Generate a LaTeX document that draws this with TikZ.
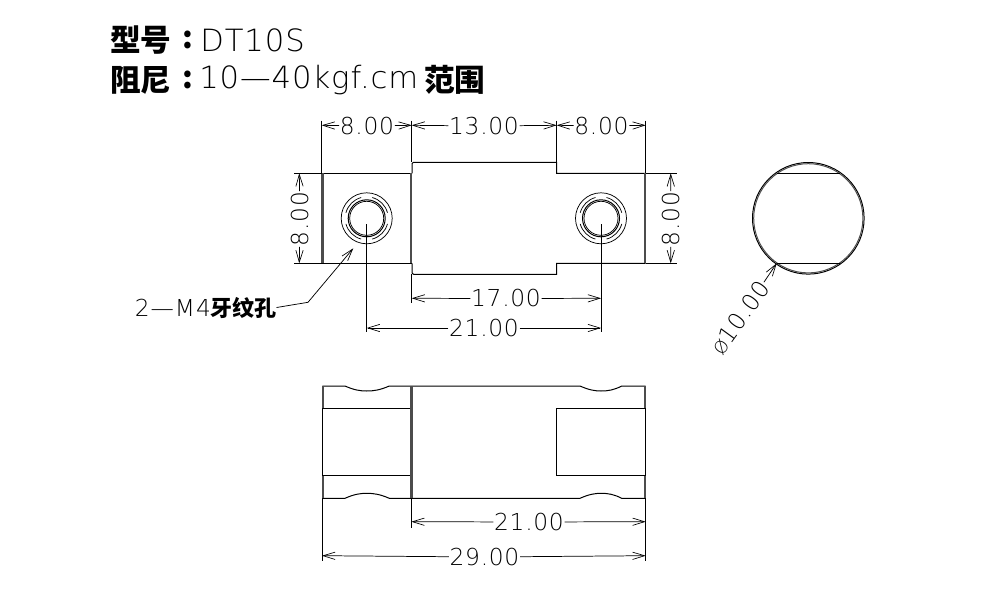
\documentclass[tikz,border=0pt]{standalone}
\usepackage{fontspec}
\setmainfont{DejaVu Sans ExtraLight}
\newfontfamily\cjk{Noto Sans CJK SC}
\usetikzlibrary{arrows.meta}
\tikzset{
  partline/.style={line width=0.75pt},
  thinline/.style={line width=0.55pt},
  wallline/.style={line width=2pt,color=black!70},
  dimline/.style={line width=0.55pt,-{Straight Barb[length=9pt,width=5.5pt,line width=0.5pt]}},
  dimtext/.style={inner sep=0.5pt,font=\fontsize{17.5}{18}\selectfont\addfontfeature{LetterSpace=3}},
  headtext/.style={inner sep=0pt,anchor=west,font=\fontsize{23}{24}\selectfont\addfontfeature{LetterSpace=3}},
  cjktext/.style={inner sep=0pt,anchor=west,font=\cjk\bfseries\fontsize{23}{24}\selectfont}
}
\begin{document}
\begin{tikzpicture}[x=0.75pt,y=-0.75pt]
\useasboundingbox (0,0) rectangle (1000,600);
% heading
\node[cjktext] (modelcn) at (110,40) {型号};
\node[cjktext] (modelcolon) at (182,40) {:};
\node[headtext] (modelname) at (200,40) {DT10S};
\node[cjktext] (dampcn) at (110,80) {阻尼};
\node[cjktext] (dampcolon) at (182,80) {:};
\node[headtext] (dampval) at (199,80) {10---40kgf.cm};
\node[cjktext] (damprange) at (424,80) {范围};
% front view
\draw[partline] (322,173.3) -- (412,173.3);
\draw[partline] (322,263.3) -- (412,263.3);
\draw[partline] (412,173.3) -- (412,163.5) -- (413.5,162.3) -- (556.7,162.3) -- (556.7,173.3) -- (645.7,173.3);
\draw[partline] (412,263.3) -- (412,273) -- (413.5,274.3) -- (556.7,274.3) -- (556.7,263.3) -- (645.7,263.3);
\draw[wallline] (322.8,173.3) -- (322.8,263.3);
\draw[wallline] (411,173.3) -- (411,263.3);
\draw[wallline] (645,173.3) -- (645,263.3);
\foreach \hx in {366.7,601} {
  \draw[thinline] (\hx,218.3) circle (25.5);
  \draw[partline] (\hx,218.3) circle (18.5);
  \draw[thinline] (\hx,218.3) circle (17);
  \foreach \ang in {0,90,180,270}
    \draw[thinline] ([shift={(\hx,218.3)}]\ang+15:21.5) arc[start angle=\ang+15,end angle=\ang+75,radius=21.5];
}
% side circle
\draw[partline] (808.3,218.3) circle (55.8);
\draw[partline,color=black!70] (808.3,218.3) circle (54.6);
\draw[partline] (776.7,173.3) -- (840,173.3);
\draw[partline] (776.7,263.3) -- (840,263.3);
% bottom view
\draw[partline] (322.3,386) -- (345,386) .. controls (354,390) and (360,391) .. (366.7,391) .. controls (374,391) and (380,390) .. (389.3,386) -- (580,386) .. controls (589,390) and (595,391) .. (601,391) .. controls (608,391) and (614,390) .. (621.7,386) -- (645.7,386);
\draw[partline] (322.3,498.3) -- (345,498.3) .. controls (354,494.3) and (360,493.3) .. (366.7,493.3) .. controls (374,493.3) and (380,494.3) .. (389.3,498.3) -- (580,498.3) .. controls (589,494.3) and (595,493.3) .. (601,493.3) .. controls (608,493.3) and (614,494.3) .. (621.7,498.3) -- (645.7,498.3);
\draw[partline] (322.3,408.3) -- (411,408.3);
\draw[partline] (322.3,475.7) -- (411,475.7);
\draw[partline] (645.7,408.3) -- (556.7,408.3) -- (556.7,475.7) -- (645.7,475.7);
\draw[partline] (322.3,386) -- (322.3,498.3);
\draw[partline] (645.7,386) -- (645.7,498.3);
\draw[wallline] (323,386) -- (323,408.3);
\draw[wallline] (323,475.7) -- (323,498.3);
\draw[wallline] (411.3,386) -- (411.3,498.3);
\draw[wallline] (645,386) -- (645,408.3);
\draw[wallline] (645,475.7) -- (645,498.3);
% extension lines
\draw[thinline] (321.7,120.5) -- (321.7,173.3);
\draw[thinline] (411.7,120.5) -- (411.7,162.3);
\draw[thinline] (556.7,120.5) -- (556.7,162.3);
\draw[thinline] (645.7,120.5) -- (645.7,173.3);
\draw[thinline] (294,173.3) -- (322,173.3);
\draw[thinline] (294,263.3) -- (322,263.3);
\draw[thinline] (645.7,173.3) -- (676.7,173.3);
\draw[thinline] (645.7,263.3) -- (676.7,263.3);
\draw[thinline] (411.7,274.3) -- (411.7,303);
\draw[thinline] (366.7,224) -- (366.7,332);
\draw[thinline] (601,224) -- (601,332);
\draw[thinline] (411.3,498.3) -- (411.3,527.7);
\draw[thinline] (322,498.3) -- (322,561);
\draw[thinline] (645.7,498.3) -- (645.7,561);
% dimension end points
\coordinate (topa) at (321.7,125.3);
\coordinate (topb) at (411.7,125.3);
\coordinate (topc) at (556.7,125.3);
\coordinate (topd) at (645.7,125.3);
\coordinate (lefta) at (299.3,173.3);
\coordinate (leftb) at (299.3,263.3);
\coordinate (righta) at (670.7,173.3);
\coordinate (rightb) at (670.7,263.3);
\coordinate (hola) at (411.7,298.3);
\coordinate (holb) at (601,298.3);
\coordinate (cena) at (366.7,328);
\coordinate (cenb) at (601,328);
\coordinate (boda) at (411.3,521.7);
\coordinate (bodb) at (645.7,521.7);
\coordinate (alla) at (322,555.7);
\coordinate (allb) at (645.7,555.7);
\coordinate (diatip) at (776.7,263.3);
\coordinate (threadtip) at (353.3,248.3);
\coordinate (threadbend) at (308,302.3);
% dimension texts
\node[dimtext] (dimtopl) at (367,126) {8.00};
\node[dimtext] (dimtopm) at (484,126) {13.00};
\node[dimtext] (dimtopr) at (601.5,126) {8.00};
\node[dimtext,rotate=90] (dimleft) at (300,219) {8.00};
\node[dimtext,rotate=90] (dimright) at (671,219) {8.00};
\node[dimtext] (dimhole) at (506,298.5) {17.00};
\node[dimtext] (dimcen) at (484,328) {21.00};
\node[dimtext] (dimbod) at (529,522) {21.00};
\node[dimtext] (dimall) at (484.5,557) {29.00};
\node[dimtext,rotate=54] (dimdia) at (740,317.5) {{\fontsize{13}{14}\selectfont Ø}10.00};
\node[dimtext,anchor=west,font=\fontsize{17.5}{18}\selectfont\addfontfeature{LetterSpace=4}] (threadname) at (134,307.5) {2---M4};
\node[cjktext,font=\cjk\bfseries\fontsize{16.5}{18}\selectfont] (threadcn) at (210,307.5) {牙纹孔};
% dimension lines
\draw[dimline] (dimtopl) -- (topa);
\draw[dimline] (dimtopl) -- (topb);
\draw[dimline] (dimtopm) -- (topb);
\draw[dimline] (dimtopm) -- (topc);
\draw[dimline] (dimtopr) -- (topc);
\draw[dimline] (dimtopr) -- (topd);
\draw[dimline] (dimleft) -- (lefta);
\draw[dimline] (dimleft) -- (leftb);
\draw[dimline] (dimright) -- (righta);
\draw[dimline] (dimright) -- (rightb);
\draw[dimline] (dimhole) -- (hola);
\draw[dimline] (dimhole) -- (holb);
\draw[dimline] (dimcen) -- (cena);
\draw[dimline] (dimcen) -- (cenb);
\draw[dimline] (dimbod) -- (boda);
\draw[dimline] (dimbod) -- (bodb);
\draw[dimline] (dimall) -- (alla);
\draw[dimline] (dimall) -- (allb);
\draw[dimline] (dimdia) -- (diatip);
\draw[dimline] (threadcn.east) -- (threadbend) -- (threadtip);
\end{tikzpicture}
\end{document}
